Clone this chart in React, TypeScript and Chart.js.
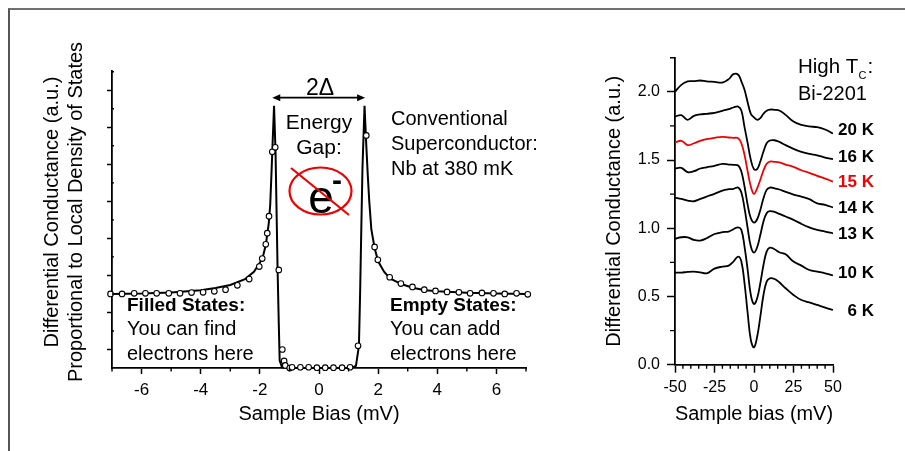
import React, { useEffect, useRef } from "react";
import { Chart, registerables } from "chart.js";

Chart.register(...registerables);

const FONT = "'Liberation Sans', Arial, sans-serif";

// Left panel: Nb at 380 mK
const nbCurveX = [-7, -6, -5, -4, -3.5, -3, -2.5, -2.2, -2, -1.9, -1.8, -1.7, -1.65, -1.6, -1.58, -1.52, -1.47, -1.4, -1.36, -1.33, -1.25, -1.1, 0, 1.1, 1.25, 1.35, 1.39, 1.43, 1.47, 1.54, 1.6, 1.65, 1.7, 1.77, 1.88, 2, 2.2, 2.4, 2.8, 3.2, 3.6, 4, 5, 6, 7];
const nbCurveY = [1.0, 1.005, 1.02, 1.05, 1.08, 1.12, 1.2, 1.3, 1.42, 1.5, 1.66, 1.95, 2.2, 2.7, 2.92, 3.54, 2.92, 1.32, 0.6, 0.1, 0.01, 0, 0, 0, 0.03, 0.3, 1.0, 1.87, 2.7, 3.54, 3.0, 2.6, 2.25, 1.87, 1.62, 1.44, 1.3, 1.21, 1.13, 1.08, 1.05, 1.035, 1.015, 1.005, 1.0];
const nbPointsX = [-7.05, -6.66, -6.25, -5.87, -5.49, -5.08, -4.7, -4.31, -3.92, -3.54, -3.16, -2.76, -2.36, -2.02, -1.92, -1.8, -1.75, -1.69, -1.58, -1.48, -1.36, -1.24, -1.18, -1.14, -0.99, -0.91, -0.63, -0.35, -0.07, 0.21, 0.49, 0.78, 1.05, 1.32, 1.6, 1.88, 1.99, 2.39, 2.77, 3.16, 3.56, 3.94, 4.33, 4.73, 5.11, 5.51, 5.9, 6.28, 6.68, 7.06];
const nbPointsY = [1.0, 1.0, 1.008, 1.008, 1.008, 1.008, 1.008, 1.018, 1.022, 1.035, 1.058, 1.116, 1.2, 1.369, 1.477, 1.67, 1.82, 2.05, 2.92, 2.98, 1.324, 0.25, 0.095, 0.035, 0, 0.01, 0.01, 0.01, 0.005, 0.005, 0.005, 0.005, 0.01, 0.3, 3.14, 1.635, 1.46, 1.225, 1.14, 1.095, 1.058, 1.04, 1.027, 1.022, 1.008, 1.013, 1.008, 1.0, 1.008, 0.995];
const leftXMajor = [-6, -4, -2, 0, 2, 4, 6];
const leftXMinor = [-7, -5, -3, -1, 1, 3, 5, 7];
const leftYMajor = [0.25, 0.75, 1.25, 1.75, 2.25, 2.75, 3.25, 3.75];
const leftYMinor = [0.5, 1, 1.5, 2, 2.5, 3, 3.5, 4];

// Right panel: Bi-2201 spectra
const biasMV = [-50, -46, -42, -38, -34, -30, -25, -20, -16, -13, -10, -8, -6, -4, -2, 0, 2, 4, 6, 8, 10, 13, 16, 20, 25, 30, 35, 40, 45, 50];
const g20K = [2.0, 2.051, 2.076, 2.078, 2.083, 2.076, 2.073, 2.068, 2.093, 2.13, 2.125, 2.076, 2.015, 1.922, 1.839, 1.812, 1.795, 1.807, 1.839, 1.861, 1.87, 1.868, 1.863, 1.831, 1.782, 1.758, 1.746, 1.741, 1.724, 1.694];
const g16K = [1.819, 1.829, 1.795, 1.824, 1.834, 1.839, 1.846, 1.861, 1.873, 1.885, 1.892, 1.863, 1.741, 1.623, 1.501, 1.433, 1.433, 1.489, 1.562, 1.623, 1.643, 1.645, 1.633, 1.609, 1.582, 1.56, 1.545, 1.535, 1.518, 1.506];
const g15K = [1.628, 1.641, 1.609, 1.623, 1.641, 1.653, 1.663, 1.67, 1.665, 1.663, 1.66, 1.623, 1.538, 1.416, 1.306, 1.252, 1.293, 1.355, 1.423, 1.472, 1.489, 1.487, 1.482, 1.467, 1.45, 1.425, 1.406, 1.384, 1.364, 1.342];
const g14K = [1.438, 1.443, 1.411, 1.418, 1.438, 1.447, 1.457, 1.472, 1.467, 1.465, 1.46, 1.416, 1.306, 1.171, 1.073, 1.042, 1.066, 1.134, 1.22, 1.281, 1.298, 1.293, 1.284, 1.267, 1.247, 1.232, 1.213, 1.183, 1.171, 1.152];
const g13K = [1.225, 1.215, 1.203, 1.198, 1.215, 1.232, 1.252, 1.276, 1.286, 1.289, 1.298, 1.262, 1.147, 1.0, 0.866, 0.822, 0.861, 0.951, 1.049, 1.11, 1.125, 1.12, 1.105, 1.086, 1.061, 1.032, 1.007, 0.988, 0.976, 0.963];
const g10K = [0.922, 0.934, 0.934, 0.914, 0.91, 0.927, 0.958, 0.971, 0.976, 0.993, 1.007, 0.988, 0.866, 0.694, 0.511, 0.445, 0.487, 0.597, 0.731, 0.829, 0.858, 0.846, 0.824, 0.809, 0.756, 0.726, 0.694, 0.682, 0.67, 0.655];
const g6K = [0.675, 0.675, 0.68, 0.682, 0.677, 0.67, 0.704, 0.719, 0.726, 0.756, 0.792, 0.756, 0.597, 0.377, 0.181, 0.127, 0.205, 0.352, 0.511, 0.609, 0.633, 0.628, 0.604, 0.56, 0.511, 0.474, 0.457, 0.438, 0.418, 0.401];
const tempSeries = [g20K, g16K, g15K, g14K, g13K, g10K, g6K];
const tempLabels = ["20 K", "16 K", "15 K", "14 K", "13 K", "10 K", "6 K"];
const redLabel = "15 K";
const rightXMajor = [-50, -25, 0, 25, 50];
const rightXMinor = [-45, -40, -35, -30, -20, -15, -10, -5, 5, 10, 15, 20, 30, 35, 40, 45];
const rightYMajor = [0, 0.5, 1, 1.5, 2];
const rightYMinor = [0.25, 0.75, 1.25, 1.75, 2.25];

const zip = (xs: number[], ys: number[]) => xs.map((x, i) => ({ x, y: ys[i] }));

function fixedSize(scale: any, size: number) {
  if (scale.isHorizontal()) scale.height = size;
  else scale.width = size;
}

function drawMinor(chart: any, xs: number[], ys: number[], xLen: number, yLen: number) {
  const { ctx, chartArea } = chart;
  ctx.save();
  ctx.strokeStyle = "#000";
  ctx.lineWidth = 1.4;
  ctx.beginPath();
  xs.forEach((v) => {
    const px = chart.scales.x.getPixelForValue(v);
    ctx.moveTo(px, chartArea.bottom);
    ctx.lineTo(px, chartArea.bottom + xLen);
  });
  ys.forEach((v) => {
    const py = chart.scales.y.getPixelForValue(v);
    ctx.moveTo(chartArea.left, py);
    ctx.lineTo(chartArea.left + yLen, py);
  });
  ctx.stroke();
  ctx.restore();
}

const leftOverlay = {
  id: "leftOverlay",
  afterDraw(chart: any) {
    const { ctx } = chart;
    const X = chart.scales.x;
    const Y = chart.scales.y;
    drawMinor(chart, leftXMinor, leftYMinor, 3.5, 2);
    ctx.save();
    ctx.fillStyle = "#000";
    ctx.textBaseline = "alphabetic";

    const text = (s: string, x: number, y: number, font: string, align = "left") => {
      ctx.font = `${font} ${FONT}`;
      ctx.textAlign = align;
      ctx.fillText(s, x, y);
    };

    ctx.save();
    ctx.translate(58, 212);
    ctx.rotate(-Math.PI / 2);
    text("Differential Conductance (a.u.)", 0, 0, "20px", "center");
    text("Proportional to Local Density of States", 0, 24, "20px", "center");
    ctx.restore();

    text("2Δ", 320, 95, "23px", "center");
    text("Energy", 319, 129, "21px", "center");
    text("Gap:", 319, 154, "21px", "center");
    ["Conventional", "Superconductor:", "Nb at 380 mK"].forEach((s, i) => text(s, 391, 125 + 25 * i, "20px"));
    text("Filled States:", 127, 311, "bold 19px");
    text("You can find", 127, 335, "20px");
    text("electrons here", 127, 360, "20px");
    text("Empty States:", 390, 311, "bold 19px");
    text("You can add", 390, 335, "20px");
    text("electrons here", 390, 360, "20px");
    text("e", 321, 213, "46px", "center");
    text("-", 337, 190, "bold 30px", "center");

    const ax0 = X.getPixelForValue(-1.58);
    const ax1 = X.getPixelForValue(1.56);
    const ay = Y.getPixelForValue(3.65);
    ctx.strokeStyle = "#000";
    ctx.lineWidth = 1.7;
    ctx.beginPath();
    ctx.moveTo(ax0 + 4, ay);
    ctx.lineTo(ax1 - 4, ay);
    ctx.stroke();
    [[ax0, 1], [ax1, -1]].forEach(([px, d]) => {
      ctx.beginPath();
      ctx.moveTo(px, ay);
      ctx.lineTo(px + d * 8, ay - 3.5);
      ctx.lineTo(px + d * 8, ay + 3.5);
      ctx.closePath();
      ctx.fill();
    });

    ctx.strokeStyle = "#f00000";
    ctx.lineWidth = 2.2;
    ctx.beginPath();
    ctx.ellipse(320.5, 191, 31, 23.5, 0, 0, Math.PI * 2);
    ctx.stroke();
    ctx.beginPath();
    ctx.moveTo(291, 168);
    ctx.lineTo(349, 215);
    ctx.stroke();
    ctx.restore();
  },
};

const rightOverlay = {
  id: "rightOverlay",
  afterDraw(chart: any) {
    const { ctx } = chart;
    const right = chart.chartArea.right;
    drawMinor(chart, rightXMinor, rightYMinor, 4, 0);
    ctx.save();
    ctx.strokeStyle = "#000";
    ctx.lineWidth = 1.4;
    ctx.beginPath();
    rightYMinor.forEach((v) => {
      const py = chart.scales.y.getPixelForValue(v);
      ctx.moveTo(chart.chartArea.left, py);
      ctx.lineTo(chart.chartArea.left - 5, py);
    });
    ctx.stroke();
    ctx.restore();

    ctx.save();
    ctx.textBaseline = "alphabetic";
    ctx.fillStyle = "#000";
    ctx.textAlign = "left";
    ctx.font = `20.5px ${FONT}`;
    const ox = 198;
    ctx.fillText("High T", ox, 73);
    const w = ctx.measureText("High T").width;
    ctx.fillText(":", ox + w + 9, 73);
    ctx.font = `20px ${FONT}`;
    ctx.fillText("Bi-2201", ox, 100);
    ctx.font = `11px ${FONT}`;
    ctx.fillText("C", ox + w, 79);

    const labelY = [135, 162, 187, 213, 239, 278, 316];
    ctx.textAlign = "right";
    ctx.font = `bold 17px ${FONT}`;
    tempLabels.forEach((s, i) => {
      ctx.fillStyle = s === redLabel ? "#f00000" : "#000";
      ctx.fillText(s, right + 41, labelY[i]);
    });
    ctx.restore();
  },
};

function useChart(make: (c: HTMLCanvasElement) => Chart) {
  const ref = useRef<HTMLCanvasElement>(null);
  useEffect(() => {
    const chart = make(ref.current!);
    return () => chart.destroy();
  }, []);
  return ref;
}

export default function App() {
  const leftRef = useChart((c) =>
    new Chart(c, {
      type: "scatter",
      data: {
        datasets: [
          { data: zip(nbCurveX, nbCurveY), showLine: true, borderColor: "#000", borderWidth: 2, pointRadius: 0, order: 2, clip: false },
          { data: zip(nbPointsX, nbPointsY), showLine: false, pointRadius: 2.8, pointBorderWidth: 1.1, pointBorderColor: "#000", pointBackgroundColor: "#fff", order: 1, clip: false },
        ],
      },
      options: {
        animation: false,
        responsive: false,
        devicePixelRatio: 1,
        layout: { padding: { left: 0, right: 74, top: 71, bottom: 25 } },
        plugins: { legend: { display: false }, tooltip: { enabled: false } },
        scales: {
          x: {
            type: "linear",
            min: -7,
            max: 7,
            afterFit: (s: any) => fixedSize(s, 58),
            afterBuildTicks: (s: any) => { s.ticks = leftXMajor.map((value) => ({ value })); },
            grid: { drawOnChartArea: false, tickLength: 6, tickWidth: 1.5, tickColor: "#000" },
            border: { color: "#000", width: 1.8 },
            ticks: {
              padding: 6,
              color: "#000",
              maxRotation: 0,
              autoSkip: false,
              font: { family: FONT, size: 17 },
              callback: (v: any) => String(v),
            },
            title: { display: true, text: "Sample Bias (mV)", color: "#000", font: { family: FONT, size: 20 }, padding: { top: 0, bottom: 0 } },
          },
          y: {
            type: "linear",
            min: 0,
            max: 4.01,
            afterFit: (s: any) => fixedSize(s, 112),
            afterBuildTicks: (s: any) => { s.ticks = leftYMajor.map((value) => ({ value })); },
            grid: { drawOnChartArea: false, tickColor: "#000", tickWidth: 1.5, tickLength: 5 },
            border: { color: "#000", width: 1.8 },
            ticks: { display: false },
          },
        },
      },
      plugins: [leftOverlay],
    } as any)
  );

  const rightRef = useChart((c) =>
    new Chart(c, {
      type: "scatter",
      data: {
        datasets: tempSeries.map((ys, i) => ({
          data: zip(biasMV, ys),
          showLine: true,
          tension: 0.4,
          borderColor: tempLabels[i] === redLabel ? "#f00000" : "#000",
          borderWidth: 1.8,
          pointRadius: 0,
        })),
      },
      options: {
        animation: false,
        responsive: false,
        devicePixelRatio: 1,
        layout: { padding: { left: 2, right: 72, top: 57.7, bottom: 25 } },
        plugins: { legend: { display: false }, tooltip: { enabled: false } },
        scales: {
          x: {
            type: "linear",
            min: -50,
            max: 50,
            afterFit: (s: any) => fixedSize(s, 61.3),
            afterBuildTicks: (s: any) => { s.ticks = rightXMajor.map((value) => ({ value })); },
            grid: { drawOnChartArea: false, tickColor: "#000", tickWidth: 1.5, tickLength: 8 },
            border: { color: "#000", width: 1.8 },
            ticks: {
              padding: 5,
              color: "#000",
              maxRotation: 0,
              autoSkip: false,
              font: { family: FONT, size: 16 },
              callback: (v: any) => String(v),
            },
            title: { display: true, text: "Sample bias (mV)", color: "#000", font: { family: FONT, size: 20 }, padding: { top: 0, bottom: 0 } },
          },
          y: {
            type: "linear",
            min: 0,
            max: 2.25,
            afterFit: (s: any) => fixedSize(s, 73),
            afterBuildTicks: (s: any) => { s.ticks = rightYMajor.map((value) => ({ value })); },
            grid: { drawOnChartArea: false, tickColor: "#000", tickWidth: 1.5, tickLength: 8 },
            border: { color: "#000", width: 1.8 },
            ticks: {
              padding: 7,
              color: "#000",
              autoSkip: false,
              font: { family: FONT, size: 16 },
              callback: (v: any) => Number(v).toFixed(1),
            },
            title: { display: true, text: "Differential Conductance (a.u.)", color: "#000", font: { family: FONT, size: 20 }, padding: { top: 0, bottom: 0 } },
          },
        },
      },
      plugins: [rightOverlay],
    } as any)
  );

  return (
    <div style={{ position: "absolute", left: 0, top: 0, width: 905, height: 451, overflow: "hidden", background: "#fff" }}>
      <div style={{ position: "absolute", left: 8, top: 8, width: 905, height: 451, borderLeft: "2px solid #555", borderTop: "2px solid #707070" }} />
      <canvas ref={leftRef} width={600} height={451} style={{ position: "absolute", left: 0, top: 0, width: 600, height: 451 }} />
      <canvas ref={rightRef} width={305} height={451} style={{ position: "absolute", left: 600, top: 0, width: 305, height: 451 }} />
    </div>
  );
}
